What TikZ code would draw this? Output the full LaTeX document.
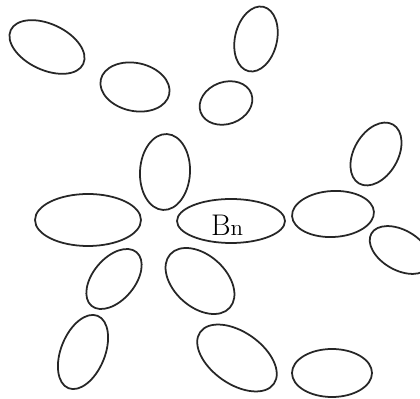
\documentclass[tikz,border=0pt]{standalone}
\usepackage{tikz}
\usetikzlibrary{positioning}

\begin{document}
\begin{tikzpicture}[x=0.02cm, y=0.02cm,
    ring/.style={draw=black!85, line width=1pt},
    label/.style={inner sep=0pt, font=\fontsize{17}{19}\selectfont}]
% Frame (420 x 399)
\clip (0,0) rectangle (420,399);
\fill[white] (0,0) rectangle (420,399);

% Ellipses: centre x/y, half axes a/b, tilt r
\foreach \x/\y/\a/\b/\r in {47/352/40/23/-25, 135/312/35/24/-12, 256/360/33/21/77,
    226/296/27/21/20, 165/227/38/25/87, 88/179/53/26/0, 231/178/54/22/0,
    333/185/41/23/3, 400/149/33/20/-30, 376/245/34/22/60, 114/120/35/21/50,
    83/47/39/22/68, 200/118/40/26/-42, 237/41/45/26/-35, 332/26/40/24/0} {
    \draw[ring, rotate around={\r:(\x,\y)}] (\x,\y) ellipse [x radius=\a, y radius=\b];
}

% Label in the middle ellipse
\node[label] (bn) at (227,174) {B{\fontsize{13}{14}\selectfont n}};
\end{tikzpicture}
\end{document}
